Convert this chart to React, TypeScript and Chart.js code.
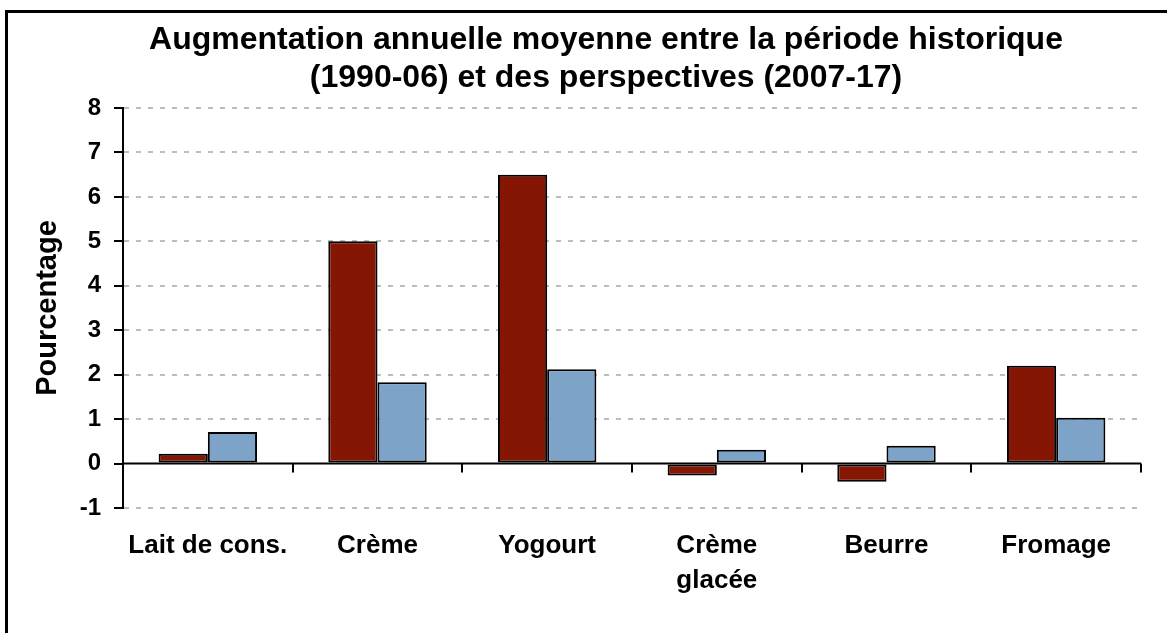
import React, { useEffect, useRef } from 'react';
import { Chart, registerables } from 'chart.js';

Chart.register(...registerables);

const TITLE_LINES = [
  'Augmentation annuelle moyenne entre la période historique',
  '(1990-06) et des perspectives (2007-17)',
];
const CATEGORIES: (string | string[])[] = [
  'Lait de cons.',
  'Crème',
  'Yogourt',
  ['Crème', 'glacée'],
  'Beurre',
  'Fromage',
];
const HISTORICAL = [0.22, 5.0, 6.5, -0.27, -0.41, 2.2];
const OUTLOOK = [0.71, 1.83, 2.12, 0.31, 0.4, 1.03];
const SERIES_NAMES = ['1990-06', '2007-17'];
const Y_MIN = -1;
const Y_MAX = 8;
const Y_STEP = 1;
const Y_TITLE = 'Pourcentage';

const FONT = '"Liberation Sans", Arial, Helvetica, sans-serif';
const RED = '#861604';
const BLUE = '#7da3c9';

const W = 1167;
const H = 633;

const titlePlugin = {
  id: 'excelTitle',
  afterDraw(chart: any) {
    const ctx = chart.ctx;
    ctx.save();
    ctx.font = `bold 32px ${FONT}`;
    ctx.fillStyle = '#000';
    ctx.textAlign = 'center';
    ctx.textBaseline = 'alphabetic';
    ctx.fillText(TITLE_LINES[0], 606, 49);
    ctx.fillText(TITLE_LINES[1], 606, 87);
    ctx.restore();
  },
};

const zeroAxisPlugin = {
  id: 'zeroAxis',
  afterDatasetsDraw(chart: any) {
    const { ctx, chartArea, scales } = chart;
    const y0 = scales.y.getPixelForValue(0);
    const xs = scales.x;
    ctx.save();
    ctx.strokeStyle = '#000';
    ctx.lineWidth = 2;
    ctx.beginPath();
    ctx.moveTo(chartArea.left, y0);
    ctx.lineTo(chartArea.right, y0);
    ctx.stroke();
    for (let i = 1; i <= CATEGORIES.length; i++) {
      const x = Math.round(xs.getPixelForValue(i - 0.5));
      ctx.beginPath();
      ctx.moveTo(x, y0);
      ctx.lineTo(x, y0 + 9);
      ctx.stroke();
    }
    ctx.restore();
  },
};

export default function App() {
  const ref = useRef<HTMLCanvasElement | null>(null);

  useEffect(() => {
    if (!ref.current) return;
    const chart = new Chart(ref.current, {
      type: 'bar',
      data: {
        labels: CATEGORIES as any,
        datasets: [
          {
            label: SERIES_NAMES[0],
            data: HISTORICAL,
            backgroundColor: RED,
            borderColor: '#000',
            borderWidth: 2,
            borderSkipped: false,
          },
          {
            label: SERIES_NAMES[1],
            data: OUTLOOK,
            backgroundColor: BLUE,
            borderColor: '#000',
            borderWidth: 2,
            borderSkipped: false,
          },
        ],
      },
      options: {
        animation: false,
        responsive: false,
        maintainAspectRatio: false,
        devicePixelRatio: 1,
        layout: { padding: { left: 0, right: 26, top: 108, bottom: 0 } },
        datasets: { bar: { categoryPercentage: 0.58, barPercentage: 1.0 } },
        plugins: {
          legend: { display: false },
          tooltip: { enabled: false },
          title: { display: false },
        },
        scales: {
          x: {
            grid: { display: false, drawTicks: false },
            border: { display: false },
            ticks: {
              color: '#000',
              font: { family: FONT, size: 26, weight: 'bold', lineHeight: 1.35 },
              padding: 20,
              maxRotation: 0,
              autoSkip: false,
            },
            afterFit(scale: any) {
              scale.height = 125;
            },
          },
          y: {
            min: Y_MIN,
            max: Y_MAX,
            ticks: {
              stepSize: Y_STEP,
              color: '#000',
              font: { family: FONT, size: 24, weight: 'bold' },
              padding: 13,
            },
            grid: {
              color: (c: any) => (c.tick && c.tick.value === 0 ? 'rgba(0,0,0,0)' : '#bdbdbd'),
              lineWidth: 2,
              tickLength: 9,
              tickColor: '#000',
              tickWidth: 2,
            },
            border: { display: true, color: '#000', width: 2, dash: [5, 7] },
            title: {
              display: true,
              text: Y_TITLE,
              color: '#000',
              font: { family: FONT, size: 29, weight: 'bold' },
              padding: { top: 31, bottom: 0 },
            },
            afterFit(scale: any) {
              scale.width = 123;
            },
          },
        },
      },
      plugins: [zeroAxisPlugin, titlePlugin],
    });
    return () => chart.destroy();
  }, []);

  return (
    <>
      <div
        style={{
          position: 'fixed',
          left: 5,
          top: 10,
          width: 1300,
          height: 800,
          borderTop: '3px solid #000',
          borderLeft: '3px solid #000',
          boxSizing: 'border-box',
          background: '#fff',
          zIndex: 0,
        }}
      />
      <canvas
        ref={ref}
        width={W}
        height={H}
        style={{ position: 'fixed', left: 0, top: 0, width: W, height: H, zIndex: 1 }}
      />
    </>
  );
}
